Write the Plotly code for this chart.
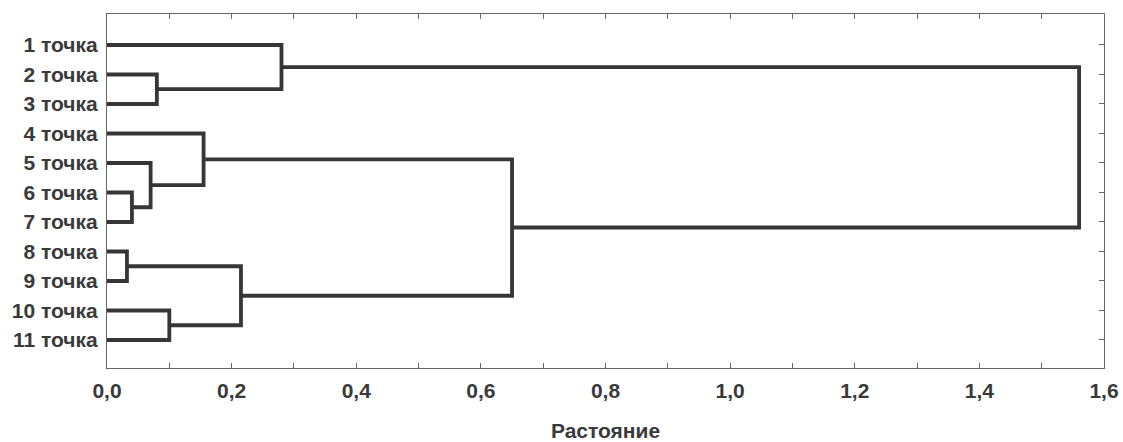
import plotly.graph_objects as go

# ---- data ----
leaf_labels = ["1 точка", "2 точка", "3 точка", "4 точка", "5 точка", "6 точка",
               "7 точка", "8 точка", "9 точка", "10 точка", "11 точка"]
# linkage: cluster ids 0..10 are leaves, new clusters numbered from 11
merge_left = [1, 5, 7, 9, 4, 3, 13, 0, 16, 18]
merge_right = [2, 6, 8, 10, 12, 15, 14, 11, 17, 19]
merge_dist = [0.08, 0.04, 0.032, 0.10, 0.07, 0.155, 0.215, 0.28, 0.65, 1.56]
x_ticks = [0.0, 0.2, 0.4, 0.6, 0.8, 1.0, 1.2, 1.4, 1.6]
x_title = "Растояние"

# ---- build dendrogram geometry ----
n = len(leaf_labels)
pos_y = {i: i + 1 for i in range(n)}
pos_x = {i: 0.0 for i in range(n)}
xs, ys = [], []
for k, (a, b, d) in enumerate(zip(merge_left, merge_right, merge_dist)):
    cid = n + k
    xs += [pos_x[a], d, d, pos_x[b], None]
    ys += [pos_y[a], pos_y[a], pos_y[b], pos_y[b], None]
    pos_y[cid] = (pos_y[a] + pos_y[b]) / 2
    pos_x[cid] = d

line_col = "#363636"
text_col = "#3a3a3a"
frame_col = "#666666"
font = dict(family="Liberation Sans, Arial, sans-serif", size=21, color=text_col, weight="bold")

fig = go.Figure()
fig.add_trace(go.Scatter(x=xs, y=ys, mode="lines",
                         line=dict(color=line_col, width=3.8),
                         hoverinfo="skip", showlegend=False))
fig.add_trace(go.Scatter(x=[None], y=[None], yaxis="y2", showlegend=False, hoverinfo="skip"))

yr = [11.95, -0.05]
fig.update_layout(
    width=1123, height=442,
    margin=dict(l=107, r=19, t=14, b=74, autoexpand=False),
    paper_bgcolor="white", plot_bgcolor="white",
    separators=", ",
    font=font,
    xaxis=dict(range=[0, 1.6], tickvals=x_ticks, tickformat=".1f",
               automargin=False, ticklabeloverflow="allow",
               showgrid=False, zeroline=False,
               showline=True, linecolor=frame_col, linewidth=1.3, mirror="allticks",
               ticks="inside", ticklen=5, tickwidth=1.2, tickcolor=frame_col,
               minor=dict(ticks="inside", dtick=0.1, ticklen=3, tickcolor=frame_col, tickwidth=1),
               ticklabelstandoff=4,
               tickfont=font,
               title=dict(text=x_title, font=font, standoff=22)),
    yaxis=dict(range=yr, tickvals=list(range(1, n + 1)), ticktext=leaf_labels,
               automargin=False,
               showgrid=False, zeroline=False,
               showline=True, linecolor=frame_col, linewidth=1.3, mirror=True,
               ticks="", ticklabelstandoff=4, tickfont=font),
    yaxis2=dict(range=yr, overlaying="y", side="right", automargin=False,
                tickvals=list(range(1, n + 1)), showticklabels=False,
                showgrid=False, zeroline=False, showline=False,
                ticks="inside", ticklen=5, tickwidth=1.2, tickcolor=frame_col),
)

# remove the default page margin so the figure fills the window exactly
fig.write_html("out.html",
               config={"displayModeBar": False},
               post_script="document.body.style.margin='0';document.body.style.overflow='hidden';")
